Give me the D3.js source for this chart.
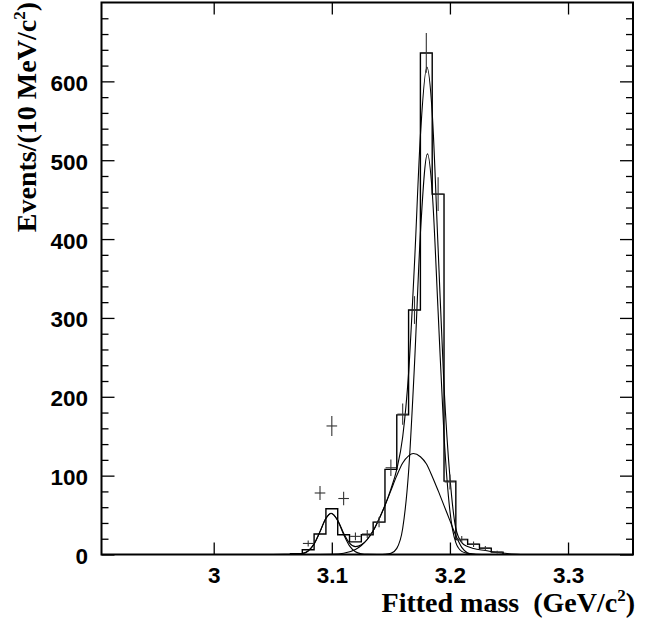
<!DOCTYPE html>
<html>
<head>
<meta charset="utf-8">
<script src="https://cdn.jsdelivr.net/npm/d3@7"></script>
<style>
  body { margin: 0; background: #fff; }
  svg { display: block; }
  .tick text { font-family: "Liberation Sans", Arial, sans-serif; font-weight: bold; font-size: 22.5px; fill: #000; }
  .title { font-family: "Liberation Serif", "Times New Roman", serif; font-weight: bold; font-size: 28px; fill: #000; }
</style>
</head>
<body>
<div id="chart"></div>
<script>
const width = 650;
const height = 627;

// histogram (10 MeV bins), bin centres and contents
const binCenters = [3.07, 3.08, 3.09, 3.10, 3.11, 3.12, 3.13, 3.14, 3.15, 3.16, 3.17, 3.18, 3.19, 3.20, 3.21, 3.22, 3.23, 3.24];
const binCounts = [1, 6, 26, 58, 25, 16, 25, 41, 108, 177, 310, 636, 457, 93, 19, 13, 8, 3];

// data points with error bars
const pointX = [3.08, 3.09, 3.10, 3.11, 3.12, 3.13, 3.14, 3.15, 3.16, 3.17, 3.18, 3.19, 3.20, 3.21, 3.22, 3.23, 3.24];
const pointY = [14, 78, 163, 71, 23, 26, 41, 110, 178, 310, 636, 457, 92, 19, 13, 8, 3];

// fitted curves
const smallX = [3.060, 3.070, 3.075, 3.080, 3.085, 3.090, 3.095, 3.0995, 3.105, 3.110, 3.115, 3.120, 3.125, 3.130, 3.140];
const smallY = [0, 0.2, 1.1, 4.5, 13.4, 29, 45.6, 52, 42.8, 25.5, 11, 3.4, 0.8, 0.1, 0];

const broadX = [3.080, 3.090, 3.100, 3.110, 3.120, 3.125, 3.130, 3.135, 3.140, 3.145, 3.150, 3.155, 3.160, 3.165, 3.169, 3.175, 3.180, 3.185, 3.190, 3.195, 3.200, 3.205, 3.210, 3.215, 3.220, 3.225];
const broadY = [0, 0.05, 0.3, 1.6, 6.4, 11.4, 19, 30, 45, 62, 81, 100, 116, 125, 128, 124, 115, 99, 81, 62, 43, 24, 9, 2, 0.3, 0];

const narrowX = [3.140, 3.145, 3.150, 3.155, 3.160, 3.165, 3.170, 3.175, 3.181, 3.185, 3.190, 3.195, 3.200, 3.205, 3.210, 3.215, 3.220, 3.230];
const narrowY = [0, 0.3, 1.4, 7.8, 33, 105, 241, 407, 508, 460, 308, 151, 55, 15, 4, 1.5, 0.6, 0];

const totalX = [3.050, 3.060, 3.070, 3.075, 3.080, 3.085, 3.090, 3.095, 3.0995, 3.105, 3.110, 3.115, 3.120, 3.125, 3.130, 3.135, 3.140, 3.145, 3.150, 3.155, 3.160, 3.165, 3.170, 3.175, 3.1805, 3.185, 3.190, 3.195, 3.200, 3.205, 3.210, 3.215, 3.220, 3.230, 3.240, 3.250, 3.260];
const totalY = [0, 0.1, 0.4, 1.2, 4.6, 13.5, 29, 46, 52.4, 43.5, 27, 14.5, 10, 12.3, 19, 30, 45, 62.5, 83, 108, 149, 230, 369, 531, 618, 560, 388, 213, 98, 33, 15, 10, 7.5, 5, 2.5, 1, 0];

// axes
const xTicks = [3, 3.1, 3.2, 3.3];
const xTickLabels = ["3", "3.1", "3.2", "3.3"];
const yTicks = [0, 100, 200, 300, 400, 500, 600];
const yMinorTicks = d3.range(20, 700, 20).filter(v => v % 100 !== 0);

const binWidth = 0.01;

const x = d3.scaleLinear().domain([2.905, 3.355]).range([101.5, 633]);
const y = d3.scaleLinear().domain([0, 700]).range([554.5, 2.5]);

const svg = d3
  .select("#chart")
  .append("svg")
  .attr("width", width)
  .attr("height", height);

// histogram outline
let histPts = [{ x: binCenters[0] - binWidth / 2, y: 0 }];
binCenters.forEach((c, i) => histPts.push({ x: c - binWidth / 2, y: binCounts[i] }));
const lastC = binCenters[binCenters.length - 1];
histPts.push({ x: lastC + binWidth / 2, y: binCounts[binCounts.length - 1] });
histPts.push({ x: lastC + binWidth / 2, y: 0 });

svg
  .append("path")
  .datum(histPts)
  .attr("fill", "none")
  .attr("stroke", "#000")
  .attr("stroke-width", 1.4)
  .attr("d", d3.line().x(d => x(d.x)).y(d => y(d.y)).curve(d3.curveStepAfter));

// fitted curves
const curve = d3.line().x(d => x(d[0])).y(d => y(d[1])).curve(d3.curveMonotoneX);
[[smallX, smallY], [broadX, broadY], [narrowX, narrowY], [totalX, totalY]].forEach(([xs, ys]) => {
  svg
    .append("path")
    .datum(xs.map((v, i) => [v, ys[i]]))
    .attr("fill", "none")
    .attr("stroke", "#000")
    .attr("stroke-width", 1.1)
    .attr("d", curve);
});

// data points: crosses with sqrt(N) errors
const pts = svg.append("g").attr("stroke", "#333").attr("stroke-width", 1.1);
pointX.forEach((px, i) => {
  const n = pointY[i];
  const e = Math.sqrt(n);
  pts.append("line")
    .attr("x1", x(px - 0.0045)).attr("x2", x(px + 0.0045))
    .attr("y1", y(n)).attr("y2", y(n));
  pts.append("line")
    .attr("x1", x(px)).attr("x2", x(px))
    .attr("y1", y(n - e)).attr("y2", y(n + e));
});

// axes
function styleAxis(g) {
  g.select(".domain").remove();
  g.selectAll(".tick line").attr("stroke", "#000").attr("stroke-width", 1.3);
}

svg.append("g")
  .attr("transform", `translate(0,${y(0)})`)
  .call(d3.axisBottom(x).tickValues(xTicks).tickFormat((d, i) => xTickLabels[i]).tickSize(-12).tickPadding(12.5))
  .call(styleAxis);

svg.append("g")
  .attr("transform", `translate(0,${y(700)})`)
  .call(d3.axisTop(x).tickValues(xTicks).tickFormat("").tickSize(-12))
  .call(styleAxis);

svg.append("g")
  .attr("transform", `translate(${x(2.905)},0)`)
  .call(d3.axisLeft(y).tickValues(yTicks).tickSize(-13).tickPadding(13.5))
  .call(styleAxis)
  .selectAll("text").attr("dy", "0.4em");

svg.append("g")
  .attr("transform", `translate(${x(2.905)},0)`)
  .call(d3.axisLeft(y).tickValues(yMinorTicks).tickSize(-7).tickFormat(""))
  .call(styleAxis);

svg.append("g")
  .attr("transform", `translate(${x(3.355)},0)`)
  .call(d3.axisRight(y).tickValues(yTicks).tickSize(-13).tickFormat(""))
  .call(styleAxis);

svg.append("g")
  .attr("transform", `translate(${x(3.355)},0)`)
  .call(d3.axisRight(y).tickValues(yMinorTicks).tickSize(-7).tickFormat(""))
  .call(styleAxis);

// frame
svg.append("rect")
  .attr("x", x(2.905))
  .attr("y", y(700))
  .attr("width", x(3.355) - x(2.905))
  .attr("height", y(0) - y(700))
  .attr("fill", "none")
  .attr("stroke", "#000")
  .attr("stroke-width", 2);

// titles
const xt = svg.append("text")
  .attr("class", "title")
  .attr("x", 635)
  .attr("y", 612)
  .attr("text-anchor", "end")
  .attr("xml:space", "preserve");
xt.append("tspan").text("Fitted mass  (GeV/c");
xt.append("tspan").attr("font-size", "17px").attr("dy", -11).text("2");
xt.append("tspan").attr("dy", 11).text(")");

const yt = svg.append("text")
  .attr("class", "title")
  .attr("transform", "translate(36,2) rotate(-90)")
  .attr("text-anchor", "end");
yt.append("tspan").text("Events/(10 MeV/c");
yt.append("tspan").attr("font-size", "17px").attr("dy", -11).text("2");
yt.append("tspan").attr("dy", 11).text(")");
</script>
</body>
</html>
